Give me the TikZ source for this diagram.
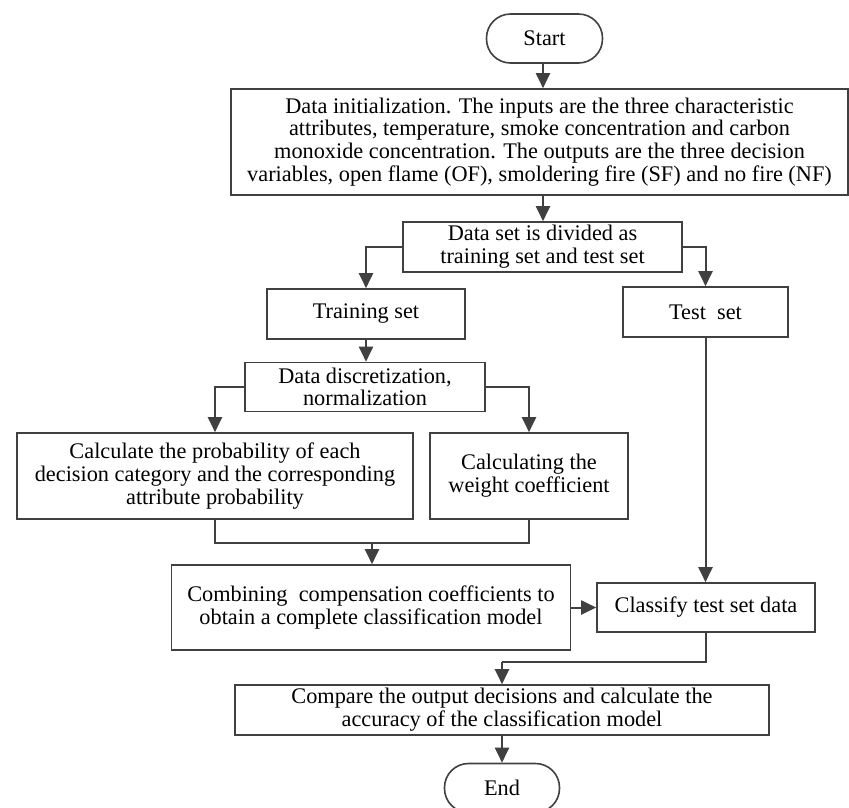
\documentclass[tikz,border=0pt]{standalone}
\usepackage{fontspec}
\setmainfont{Liberation Serif}
\usetikzlibrary{arrows.meta}

\definecolor{linegray}{HTML}{404040}

\tikzset{
  box/.style={draw=linegray, line width=1.6pt, fill=white, align=center,
    inner sep=0pt, font=\fontsize{22.3}{22.7}\selectfont},
  terminal/.style={box, rounded corners=24pt},
  flow/.style={linegray, line width=2pt, ->, >={Triangle[length=15pt,width=14pt]}},
  plain/.style={linegray, line width=2pt}
}

\begin{document}
\begin{tikzpicture}[x=1pt,y=-1pt]
  \useasboundingbox (0,0) rectangle (849,807);
  % boxes
  \node[terminal, minimum width=116pt, minimum height=49pt] (start) at (544.5,38.5) {Start};
  \node[box, minimum width=617pt, minimum height=106pt] (init) at (539.5,142)
    {Data initialization. The inputs are the three characteristic\\
     attributes, temperature, smoke concentration and carbon\\
     monoxide concentration. The outputs are the three decision\\
     variables, open flame (OF), smoldering fire (SF) and no fire (NF)};
  \node[box, minimum width=279pt, minimum height=50pt] (split) at (542.5,247)
    {Data set is divided as\\ training set and test set};
  \node[box, minimum width=198pt, minimum height=50pt] (train) at (366,314) {Training set};
  \node[box, minimum width=165pt, minimum height=50pt] (test) at (705.5,312) {Test\ \ set};
  \node[box, minimum width=240pt, minimum height=49pt] (discret) at (365,387)
    {Data discretization,\\ normalization};
  \node[box, minimum width=396pt, minimum height=86pt] (prob) at (215,476)
    {Calculate the probability of each\\ decision category and the corresponding\\ attribute probability};
  \node[box, minimum width=198pt, minimum height=86pt] (weight) at (529,476)
    {Calculating the\\ weight coefficient};
  \node[box, minimum width=399pt, minimum height=85pt] (combine) at (371,607.5)
    {Combining\ \ compensation coefficients to\\ obtain a complete classification model};
  \node[box, minimum width=218pt, minimum height=49pt] (classify) at (706,607.5)
    {Classify test set data};
  \node[box, minimum width=534pt, minimum height=50pt] (compare) at (502,710)
    {Compare the output decisions and calculate the\\ accuracy of the classification model};
  \node[terminal, minimum width=115pt, minimum height=49pt] (finish) at (502,788) {End};
  \coordinate (join1) at (372,543);
  \coordinate (join2) at (502,662);
  % connectors
  \draw[flow] (543,0 |- start.south) -- (543,0 |- init.north);
  \draw[flow] (543,0 |- init.south) -- (543,0 |- split.north);
  \draw[flow] (split.west) -| (train.north);
  \draw[flow] (split.east) -| (test.north);
  \draw[flow] (train.south) -- (train.south |- discret.north);
  \draw[flow] (discret.west) -| (prob.north);
  \draw[flow] (discret.east) -| (weight.north);
  \draw[plain] (prob.south) |- (join1) -| (weight.south);
  \draw[flow] (join1) -- (join1 |- combine.north);
  \draw[flow] (test.south) -- (test.south |- classify.north);
  \draw[flow] (combine.east) -- (combine.east -| classify.west);
  \draw[plain] (classify.south) |- (join2);
  \draw[flow] (join2) -- (compare.north);
  \draw[flow] (compare.south) -- (finish.north);
\end{tikzpicture}
\end{document}
